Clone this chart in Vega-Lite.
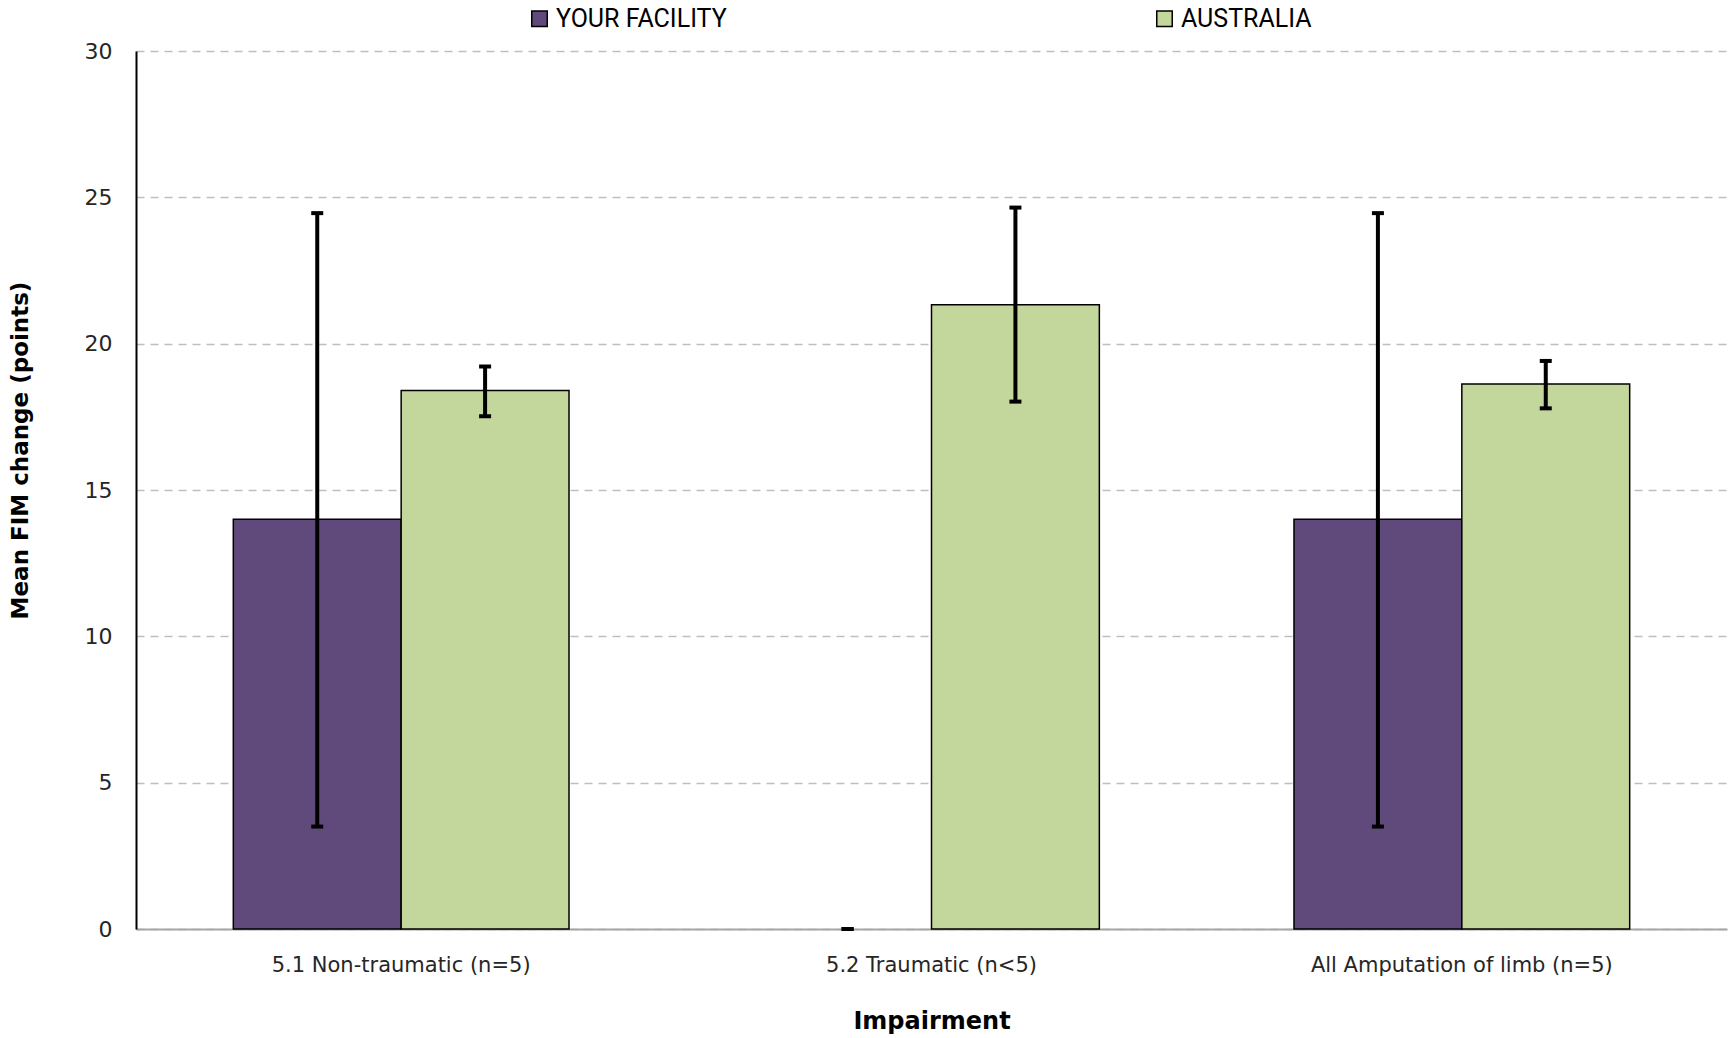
{
  "$schema": "https://vega.github.io/schema/vega-lite/v6.json",
  "autosize": {"type": "none"},
  "width": 1591,
  "height": 878,
  "padding": {"left": 136, "top": 51, "right": 2, "bottom": 109},
  "background": "white",
  "config": {
    "view": {"stroke": null},
    "font": "DejaVu Sans"
  },
  "data": {
    "values": [
      {"Impairment": "5.1 Non-traumatic (n=5)", "Series": "YOUR FACILITY", "Mean": 14.0, "Lo": 3.5, "Hi": 24.46},
      {"Impairment": "5.1 Non-traumatic (n=5)", "Series": "AUSTRALIA", "Mean": 18.4, "Lo": 17.52, "Hi": 19.22},
      {"Impairment": "5.2 Traumatic (n<5)", "Series": "YOUR FACILITY", "Mean": null, "Lo": 0, "Hi": 0},
      {"Impairment": "5.2 Traumatic (n<5)", "Series": "AUSTRALIA", "Mean": 21.33, "Lo": 18.02, "Hi": 24.65},
      {"Impairment": "All Amputation of limb (n=5)", "Series": "YOUR FACILITY", "Mean": 14.0, "Lo": 3.5, "Hi": 24.46},
      {"Impairment": "All Amputation of limb (n=5)", "Series": "AUSTRALIA", "Mean": 18.62, "Lo": 17.79, "Hi": 19.41}
    ]
  },
  "encoding": {
    "x": {
      "field": "Impairment",
      "type": "nominal",
      "sort": null,
      "scale": {"paddingInner": 0.367, "paddingOuter": 0.1835},
      "axis": {
        "title": "Impairment",
        "labelAngle": 0,
        "labelFont": "DejaVu Sans",
        "labelFontSize": 21,
        "labelLimit": 500,
        "labelColor": "#262626",
        "labelPadding": 25,
        "ticks": false,
        "domainColor": "#A6A6A6",
        "domainWidth": 2,
        "titleFont": "DejaVu Sans",
        "titleFontSize": 24,
        "titleFontWeight": "bold",
        "titleColor": "#000000",
        "titlePadding": 34
      }
    },
    "xOffset": {"field": "Series", "type": "nominal", "sort": ["YOUR FACILITY", "AUSTRALIA"], "scale": {"paddingInner": 0, "paddingOuter": 0}}
  },
  "layer": [
    {
      "mark": {"type": "bar", "stroke": "#000000", "strokeWidth": 1.5},
      "encoding": {
        "y": {
          "field": "Mean",
          "type": "quantitative",
          "scale": {"domain": [0, 30], "nice": false},
          "axis": {
            "title": "Mean FIM change (points)",
            "values": [0, 5, 10, 15, 20, 25, 30],
            "labelFont": "DejaVu Sans",
            "labelFontSize": 22,
            "labelColor": "#262626",
            "labelPadding": 24,
            "ticks": false,
            "domainColor": "#000000",
            "domainWidth": 2,
            "grid": true,
            "gridColor": "#BFBFBF",
            "gridWidth": 1.5,
            "gridDash": [8, 6],
            "titleFont": "DejaVu Sans",
            "titleFontSize": 23,
            "titleFontWeight": "bold",
            "titleColor": "#000000",
            "titlePadding": 52,
            "titleY": 399
          }
        },
        "color": {
          "field": "Series",
          "type": "nominal",
          "sort": ["YOUR FACILITY", "AUSTRALIA"],
          "scale": {"domain": ["YOUR FACILITY", "AUSTRALIA"], "range": ["#604A7B", "#C3D69B"]},
          "legend": {
            "title": null,
            "orient": "none",
            "direction": "horizontal",
            "legendX": 391,
            "legendY": -45,
            "symbolType": "square",
            "symbolSize": 240,
            "symbolStrokeColor": "#000000",
            "symbolStrokeWidth": 1.5,
            "symbolOpacity": 1,
            "labelFontSize": 25,
            "labelFont": "Roboto",
            "labelLimit": 500,
            "labelColor": "#000000",
            "labelOffset": 4,
            "columnPadding": 425
          }
        }
      }
    },
    {
      "mark": {"type": "rule", "color": "#000000", "strokeWidth": 4},
      "encoding": {
        "y": {"field": "Lo", "type": "quantitative"},
        "y2": {"field": "Hi"}
      }
    },
    {
      "mark": {"type": "tick", "color": "#000000", "size": 12, "thickness": 4, "opacity": 1},
      "encoding": {
        "y": {"field": "Lo", "type": "quantitative"}
      }
    },
    {
      "mark": {"type": "tick", "color": "#000000", "size": 12, "thickness": 4, "opacity": 1},
      "encoding": {
        "y": {"field": "Hi", "type": "quantitative"}
      }
    }
  ]
}
